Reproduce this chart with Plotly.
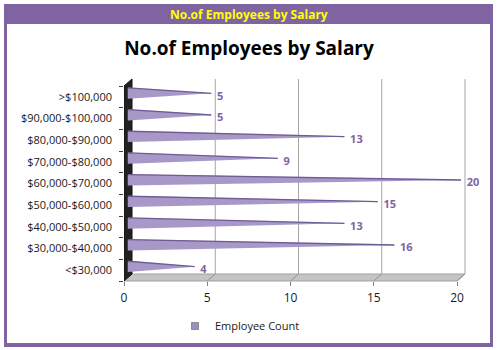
import plotly.graph_objects as go

# ---------------- data ----------------
categories = ["<$30,000", "$30,000-$40,000", "$40,000-$50,000", "$50,000-$60,000",
              "$60,000-$70,000", "$70,000-$80,000", "$80,000-$90,000",
              "$90,000-$100,000", ">$100,000"]
counts = [4, 16, 13, 15, 20, 9, 13, 5, 5]
x_ticks = [0, 5, 10, 15, 20]
series_name = "Employee Count"
chart_title = "No.of Employees by Salary"

# ---------------- layout helpers ----------------
W, H = 498, 350
PURPLE = "#8064A2"
CONE = "#A898C8"
CONE_EDGE = "#6E5C96"
GRID = "#A6A6A6"
FONT = "Open Sans"


def py(p):
    return 1 - p / H


def px(p):
    return p / W


X0_PX, X20_PX = 124, 457
XMAX = x_ticks[-1]
unit = (X20_PX - X0_PX) / XMAX           # px per data unit
XRANGE_MAX = XMAX + 1.6                   # a little room past the last tick (3D depth + labels)
depth_dx = 8 / unit                       # 3D depth offset in data units
mid_dx = depth_dx / 2
front_bottom, front_top = 281, 86
depth_dy = 7
cone_h = 0.25
n = len(categories)

# cone polygons built from the data
cx, cy, ex, ey = [], [], [], []
for i, v in enumerate(counts):
    cx += [mid_dx, mid_dx, mid_dx + v, None]
    cy += [i - cone_h, i + cone_h, i, None]
    ex += [mid_dx, mid_dx + v, None]
    ey += [i + cone_h, i, None]

fig = go.Figure()
fig.add_trace(go.Scatter(x=cx, y=cy, yaxis="y2", fill="toself", mode="lines",
                         fillcolor=CONE, line=dict(color=CONE, width=0.5),
                         name=series_name, showlegend=False, hoverinfo="skip"))
fig.add_trace(go.Scatter(x=ex, y=ey, yaxis="y2", mode="lines",
                         line=dict(color=CONE_EDGE, width=1.3),
                         showlegend=False, hoverinfo="skip"))
fig.add_trace(go.Scatter(x=[v + depth_dx + 0.1 for v in counts], y=list(range(n)),
                         mode="text", text=[str(v) for v in counts],
                         textposition="middle right", cliponaxis=False,
                         textfont=dict(family=FONT, size=11, color=PURPLE, weight="bold"),
                         showlegend=False, hoverinfo="skip"))
# legend entry for the series
fig.add_trace(go.Scatter(x=[None], y=[None], mode="markers", name=series_name,
                         marker=dict(symbol="square", size=7, color="#9D8DC0",
                                     line=dict(color="#8C8C8C", width=1)),
                         showlegend=True, hoverinfo="skip"))

shapes = []
# outer purple frame + inner white area
shapes.append(dict(type="rect", xref="paper", yref="paper", x0=px(4), x1=px(493),
                   y0=py(347), y1=py(4), fillcolor=PURPLE, line=dict(width=0), layer="below"))
shapes.append(dict(type="rect", xref="paper", yref="paper", x0=px(7), x1=px(490),
                   y0=py(343), y1=py(24), fillcolor="white", line=dict(width=0), layer="below"))

yb_f, yb_b = py(front_bottom), py(front_bottom - depth_dy)
yt_f, yt_b = py(front_top), py(front_top - depth_dy)
# floor
shapes.append(dict(type="path", xref="x", yref="paper",
                   path=f"M 0,{yb_f} L {XMAX},{yb_f} L {XMAX + depth_dx},{yb_b} L {depth_dx},{yb_b} Z",
                   fillcolor="#C4C4C4", line=dict(color="#A0A0A0", width=1), layer="below"))
# back gridlines + floor diagonals
for t in x_ticks[1:]:
    shapes.append(dict(type="line", xref="x", yref="paper", x0=t + depth_dx, x1=t + depth_dx,
                       y0=yb_b, y1=yt_b, line=dict(color=GRID, width=1), layer="below"))
    shapes.append(dict(type="line", xref="x", yref="paper", x0=t, x1=t + depth_dx,
                       y0=yb_f, y1=yb_b, line=dict(color="#909090", width=1), layer="below"))
# left wall
shapes.append(dict(type="path", xref="x", yref="paper",
                   path=f"M 0,{yb_f} L 0,{yt_f} L {depth_dx},{yt_b} L {depth_dx},{yb_b} Z",
                   fillcolor="#222222", line=dict(color="#111111", width=1), layer="below"))

fig.update_layout(
    template="none",
    width=W, height=H,
    margin=dict(l=0, r=0, t=0, b=0, autoexpand=False),
    paper_bgcolor="white", plot_bgcolor="rgba(0,0,0,0)",
    font=dict(family=FONT, color="#1a1a1a"),
    shapes=shapes,
    title=dict(text=chart_title, x=0.5, xanchor="center", y=py(48), yanchor="middle",
               font=dict(family=FONT, size=19, color="black", weight="bold")),
    annotations=[dict(text=chart_title, xref="paper", yref="paper", x=0.5, y=py(14),
                      xanchor="center", yanchor="middle", showarrow=False,
                      font=dict(family=FONT, size=12, color="#FFFF00", weight="bold"))],
    xaxis=dict(domain=[px(X0_PX), px(X0_PX + XRANGE_MAX * unit)], range=[0, XRANGE_MAX],
               tickvals=x_ticks,
               showgrid=False, zeroline=False, showline=False, automargin=False,
               ticks="outside", ticklen=4, tickcolor="#808080",
               anchor="free", position=py(front_bottom),
               tickfont=dict(family=FONT, size=12, color="#1a1a1a"),
               ticklabelstandoff=2),
    # front plane: category labels, boundary ticks, data labels
    yaxis=dict(domain=[py(front_bottom), py(front_top)],
               range=[-0.5, n - 0.5], tickvals=list(range(n)), ticktext=categories,
               showgrid=False, zeroline=False, showline=False, ticks="", automargin=False,
               minor=dict(tickvals=[i - 0.5 for i in range(n + 1)], ticks="outside",
                          ticklen=4, tickcolor="#404040", showgrid=False),
               tickfont=dict(family=FONT, size=11, color="#1a1a1a"),
               ticklabelstandoff=11),
    # mid-depth plane: the cones
    yaxis2=dict(domain=[py(front_bottom - depth_dy / 2), py(front_top - depth_dy / 2)],
                range=[-0.5, n - 0.5], anchor="x", visible=False, automargin=False),
    showlegend=True,
    legend=dict(orientation="h", x=px(175), xanchor="left", y=py(326), yanchor="middle",
                font=dict(family=FONT, size=11, color="#1a1a1a"),
                bgcolor="rgba(0,0,0,0)", itemwidth=30),
)

fig.write_html("out.html")
